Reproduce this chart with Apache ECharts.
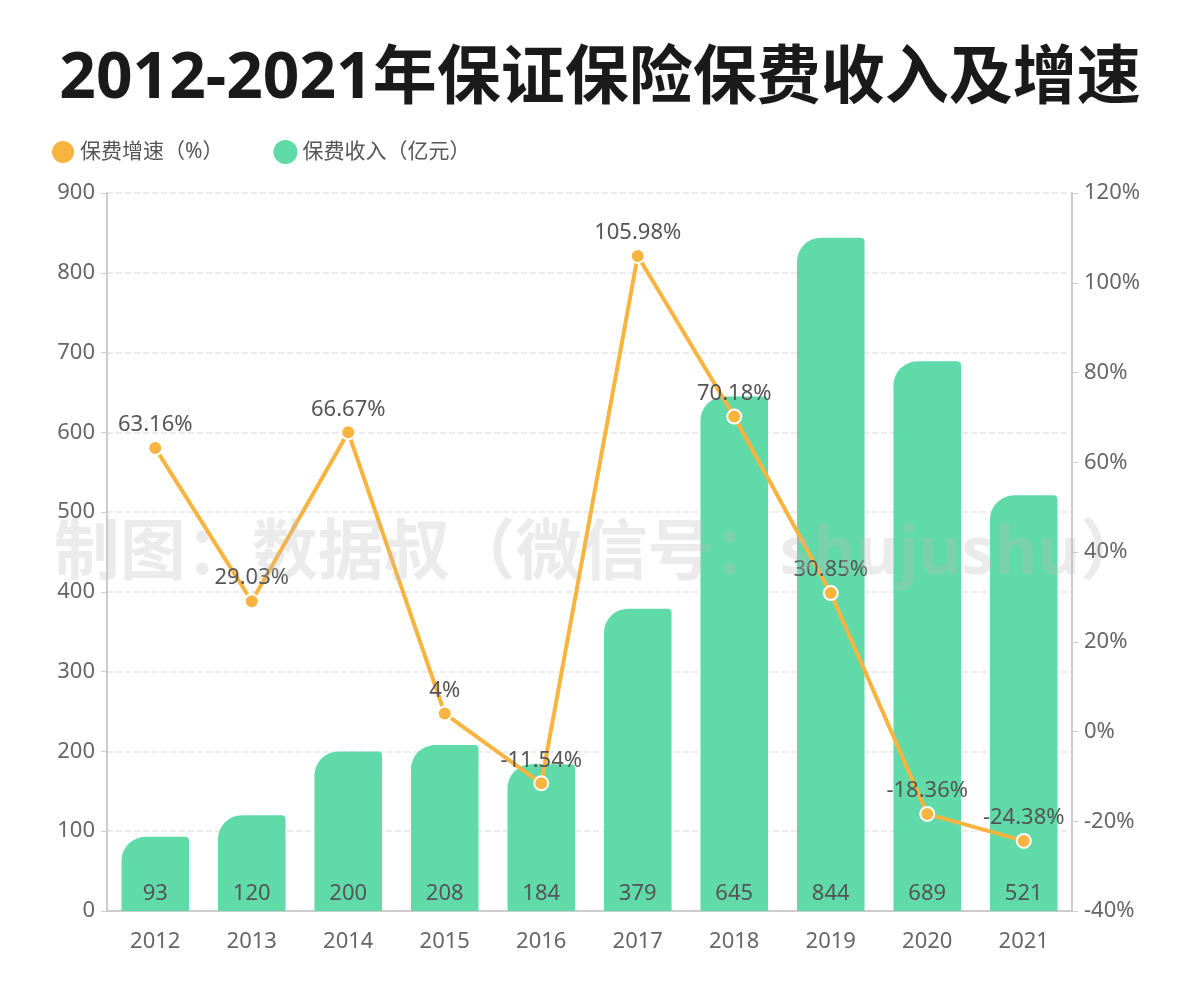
<!DOCTYPE html>
<html>
<head>
<meta charset="utf-8">
<script src="https://cdn.jsdelivr.net/npm/echarts@6/dist/echarts.min.js"></script>
<style>
  html, body { margin: 0; padding: 0; background: #fff; }
  .box { width: 1200px; height: 1000px; }
</style>
</head>
<body>
<div class="box"></div>
<script>
// 数据
var years = ["2012", "2013", "2014", "2015", "2016", "2017", "2018", "2019", "2020", "2021"];
var income = [93, 120, 200, 208, 184, 379, 645, 844, 689, 521];
var growth = [63.16, 29.03, 66.67, 4, -11.54, 105.98, 70.18, 30.85, -18.36, -24.38];
var leftTicks = { min: 0, max: 900, interval: 100 };
var rightTicks = { min: -40, max: 120, interval: 20 };

(function () {
    var myChart = echarts.init(document.querySelector(".box"));
    var font = "'Noto Sans', 'Noto Sans CJK SC', sans-serif";

    var option = {
        textStyle: { fontFamily: font },
        title: {
            text: "2012-2021年保证保险保费收入及增速",
            left: "center",
            top: 43,
            textStyle: { fontSize: 64, fontWeight: "bold", color: "#1a1a1a", fontFamily: font }
        },
        graphic: [{
            type: "text",
            left: "center",
            top: 522,
            z: 100,
            silent: true,
            style: {
                text: "制图：数据叔（微信号：shujushu）",
                fontSize: 66,
                fontWeight: "bold",
                fill: "rgba(190,190,190,0.3)",
                fontFamily: font
            }
        }],
        legend: {
            left: 45,
            top: 134,
            itemWidth: 24,
            itemHeight: 24,
            itemGap: 50,
            icon: "circle",
            data: ["保费增速（%）", "保费收入（亿元）"],
            textStyle: { color: "#555", fontSize: 21 }
        },
        color: ["#5fdaa8", "#f9b440"],
        grid: { left: 107, right: 128, top: 193, bottom: 89 },
        xAxis: {
            type: "category",
            data: years,
            axisTick: { show: false },
            axisLine: { lineStyle: { color: "#ccc", width: 2 } },
            axisLabel: { color: "#666", fontSize: 22, margin: 20 }
        },
        yAxis: [{
            type: "value",
            min: leftTicks.min, max: leftTicks.max, interval: leftTicks.interval,
            axisLine: { show: true, lineStyle: { color: "#ccc", width: 2 } },
            axisTick: { show: true, length: 6, lineStyle: { color: "#ccc" } },
            axisLabel: { color: "#666", fontSize: 22, margin: 12 },
            splitLine: { lineStyle: { color: "#e6e6e6", type: "dashed", width: 1.5 } }
        }, {
            type: "value",
            min: rightTicks.min, max: rightTicks.max, interval: rightTicks.interval,
            axisLine: { show: true, lineStyle: { color: "#ccc", width: 2 } },
            axisTick: { show: true, length: 6, lineStyle: { color: "#ccc" } },
            axisLabel: { color: "#666", fontSize: 22, margin: 12, formatter: "{value}%" },
            splitLine: { show: false }
        }],
        series: [{
            name: "保费收入（亿元）",
            type: "bar",
            data: income,
            barWidth: "70%",
            itemStyle: { color: "#5fdaa8", borderRadius: [24, 4, 0, 0] },
            label: {
                show: true,
                position: "insideBottom",
                distance: 6,
                color: "#555",
                fontSize: 22
            },
            z: 2
        }, {
            name: "保费增速（%）",
            type: "line",
            yAxisIndex: 1,
            data: growth,
            symbol: "circle",
            symbolSize: 14,
            lineStyle: { color: "#f9b440", width: 4 },
            itemStyle: { color: "#f9b440", borderColor: "#fff", borderWidth: 2 },
            label: {
                show: true,
                position: "top",
                distance: 4,
                color: "#555",
                fontSize: 22,
                formatter: "{c}%"
            },
            z: 3
        }]
    };

    myChart.setOption(option);
    window.addEventListener("resize", function () {
        myChart.resize();
    });
})();
</script>
</body>
</html>
